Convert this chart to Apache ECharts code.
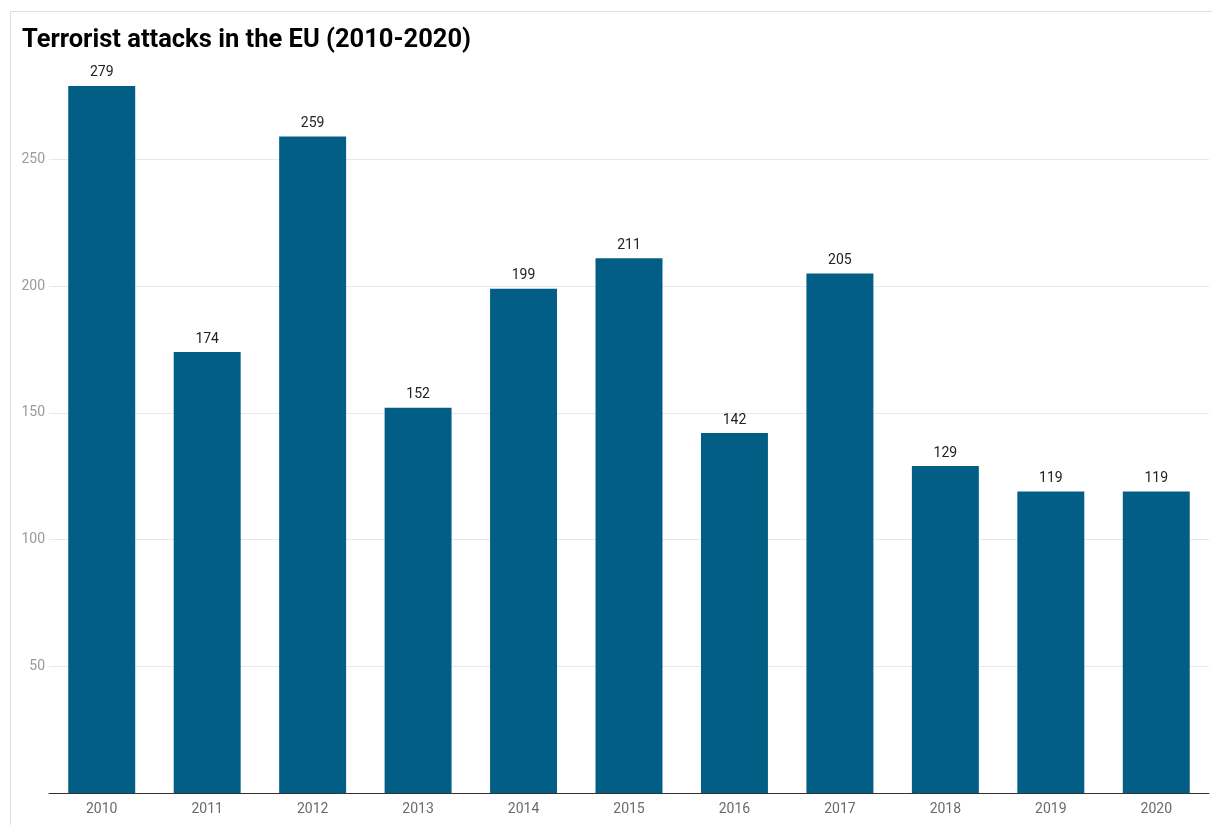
<!DOCTYPE html>
<html>
<head>
<meta charset="utf-8">
<script src="https://cdn.jsdelivr.net/npm/echarts@6/dist/echarts.min.js"></script>
<style>
  html, body { margin: 0; padding: 0; background: #fff; }
  #chart { width: 1212px; height: 825px; }
</style>
</head>
<body>
<div id="chart"></div>
<script>
// datos del gráfico
const years = ['2010', '2011', '2012', '2013', '2014', '2015', '2016', '2017', '2018', '2019', '2020'];
const attacks = [279, 174, 259, 152, 199, 211, 142, 205, 129, 119, 119];
const titulo = 'Terrorist attacks in the EU (2010-2020)';

const container = document.getElementById('chart');
const grafico = echarts.init(container);

const opciones = {
  animation: false,
  textStyle: { fontFamily: 'Roboto' },
  title: {
    text: titulo,
    left: 17,
    top: 23,
    textStyle: { fontSize: 25.5, fontWeight: 'bold', color: '#000', fontFamily: 'Roboto' }
  },
  graphic: [
    { type: 'line', shape: { x1: 10, y1: 11.5, x2: 1212, y2: 11.5 }, style: { stroke: '#dedede', lineWidth: 1 } },
    { type: 'line', shape: { x1: 10.5, y1: 11, x2: 10.5, y2: 825 }, style: { stroke: '#dedede', lineWidth: 1 } }
  ],
  grid: { left: 49, right: 3, top: 58, bottom: 32, containLabel: false },
  xAxis: {
    type: 'category',
    data: years,
    axisLine: { lineStyle: { color: '#333', width: 1 } },
    axisTick: { show: false },
    axisLabel: { color: '#6b6b6b', fontSize: 14, margin: 9 }
  },
  yAxis: {
    type: 'value',
    min: 0,
    max: 290,
    interval: 50,
    axisLine: { show: false },
    axisTick: { show: false },
    axisLabel: {
      color: '#9a9a9a', fontSize: 14, margin: 4,
      showMinLabel: false, showMaxLabel: false
    },
    splitLine: {
      lineStyle: {
        color: ['#e8e8e8', '#e8e8e8', '#e8e8e8', '#e8e8e8', '#e8e8e8', '#e8e8e8', 'rgba(0,0,0,0)'],
        width: 1
      }
    }
  },
  series: [
    {
      type: 'bar',
      data: attacks,
      barCategoryGap: '36.5%',
      itemStyle: { color: '#035e86' },
      label: {
        show: true,
        position: 'top',
        distance: 6,
        color: '#222',
        fontSize: 14
      }
    }
  ]
};

grafico.setOption(opciones);
</script>
</body>
</html>
